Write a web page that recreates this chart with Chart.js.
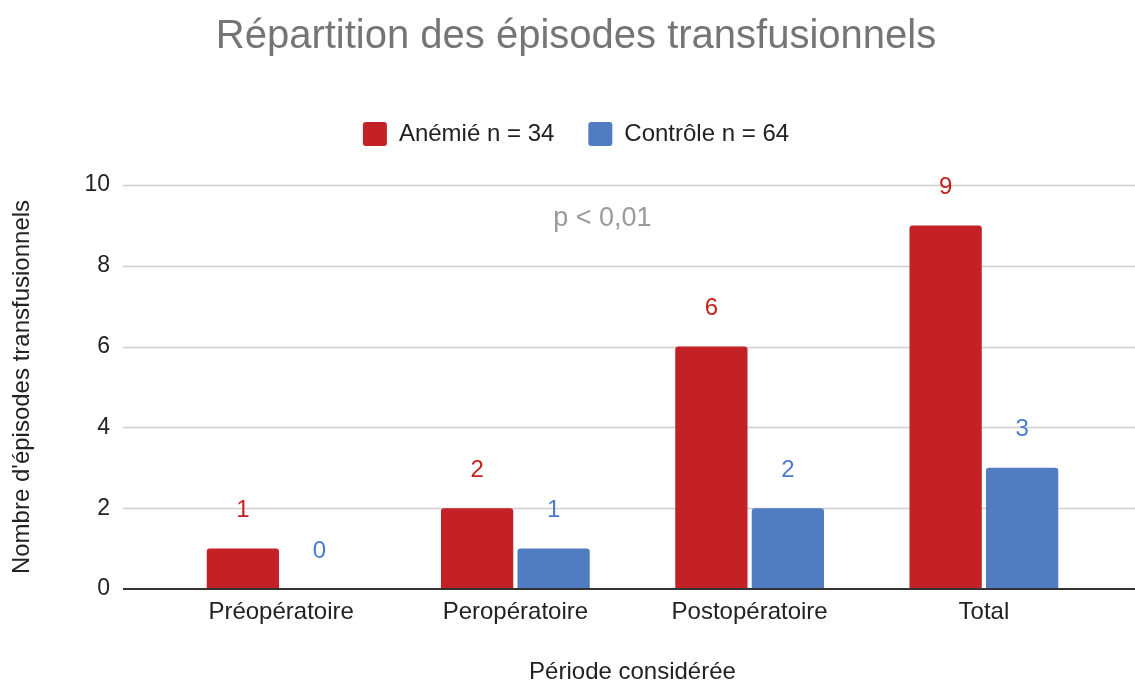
<!DOCTYPE html>
<html lang="fr">
<head>
<meta charset="utf-8">
<script src="https://cdn.jsdelivr.net/npm/chart.js@4"></script>
<style>
  html, body { margin: 0; padding: 0; background: #fff; }
  #wrap { width: 1135px; height: 684px; position: relative; }
</style>
</head>
<body>
<div id="wrap"><canvas id="js-chart-episodes"></canvas></div>
<script>
// Data
const periodes = ['Préopératoire', 'Peropératoire', 'Postopératoire', 'Total'];
const anemie = [1, 2, 6, 9];
const controle = [0, 1, 2, 3];
const yTicks = [0, 2, 4, 6, 8, 10];
const pValueText = 'p < 0,01';

const FONT = '"Liberation Sans", Arial, Helvetica, sans-serif';
const RED = '#c42126';
const BLUE = '#517cc2';

Chart.defaults.font.family = FONT;
Chart.defaults.color = '#222';

// Grid lines run wider than the bar area (Google Charts style)
const extendedGrid = {
  id: 'extendedGrid',
  beforeDatasetsDraw(chart) {
    const {ctx, scales: {y}} = chart;
    ctx.save();
    ctx.strokeStyle = '#cfcfcf';
    ctx.lineWidth = 1.5;
    yTicks.forEach(v => {
      if (v === 0) return;
      const py = Math.round(y.getPixelForValue(v)) + 0.5;
      ctx.beginPath();
      ctx.moveTo(123, py);
      ctx.lineTo(chart.width, py);
      ctx.stroke();
    });
    ctx.restore();
  },
  afterDatasetsDraw(chart) {
    const {ctx, scales: {y}} = chart;
    const py = y.getPixelForValue(0);
    ctx.save();
    ctx.strokeStyle = '#333';
    ctx.lineWidth = 2;
    ctx.beginPath();
    ctx.moveTo(123, py);
    ctx.lineTo(chart.width, py);
    ctx.stroke();
    ctx.restore();
  }
};

// Value labels above bars + p value note
const barLabels = {
  id: 'barLabels',
  afterDatasetsDraw(chart) {
    const {ctx, scales: {x, y}} = chart;
    ctx.save();
    ctx.font = '24px ' + FONT;
    ctx.textAlign = 'center';
    ctx.textBaseline = 'middle';
    chart.data.datasets.forEach((ds, i) => {
      chart.getDatasetMeta(i).data.forEach((bar, j) => {
        ctx.fillStyle = ds.labelColor;
        ctx.fillText(String(ds.data[j]), bar.x, bar.y - 38);
      });
    });
    ctx.font = '27px ' + FONT;
    ctx.fillStyle = '#9a9a9a';
    ctx.fillText(pValueText, x.getPixelForValue(1) + 87, y.getPixelForValue(9.16));
    ctx.restore();
  }
};

const chartData = {
  labels: periodes,
  datasets: [
    {
      label: 'Anémié n = 34',
      data: anemie,
      backgroundColor: RED,
      labelColor: '#c5221f',
      borderWidth: 0,
      borderRadius: {topLeft: 3, topRight: 3},
      borderSkipped: 'start'
    },
    {
      label: 'Contrôle n = 64',
      data: controle,
      backgroundColor: BLUE,
      labelColor: '#4a7bcf',
      borderWidth: 0,
      borderRadius: {topLeft: 3, topRight: 3},
      borderSkipped: 'start'
    }
  ]
};

const chartOptions = {
  responsive: true,
  maintainAspectRatio: false,
  animation: false,
  layout: { padding: { left: 17, right: 0, top: 0, bottom: 0 } },
  datasets: {
    bar: { categoryPercentage: 0.653, barPercentage: 0.945 }
  },
  scales: {
    x: {
      grid: { display: false, drawTicks: false },
      border: { display: false },
      ticks: { font: { size: 24 }, color: '#222', padding: 9 },
      title: {
        display: true,
        text: 'Période considérée',
        color: '#222',
        font: { size: 24, lineHeight: 1 },
        padding: { top: 0, bottom: 0 }
      },
      afterFit: s => { s.height = 95; }
    },
    y: {
      min: 0,
      max: 10,
      grid: { display: false, drawTicks: false },
      border: { display: false },
      ticks: { stepSize: 2, font: { size: 23 }, color: '#222', padding: 54 },
      title: {
        display: true,
        text: "Nombre d'épisodes transfusionnels",
        color: '#222',
        font: { size: 24, lineHeight: 1 },
        padding: { top: -7, bottom: 0 }
      },
      afterFit: s => { s.width = 147; }
    },
    // empty right-hand axis, only reserves the right margin
    yRight: {
      position: 'right',
      display: true,
      grid: { display: false, drawTicks: false },
      border: { display: false },
      ticks: { display: false },
      afterFit: s => { s.width = 34; }
    }
  },
  plugins: {
    title: {
      display: true,
      text: 'Répartition des épisodes transfusionnels',
      color: '#757575',
      font: { size: 40, weight: 'normal', lineHeight: 1.2 },
      padding: { top: 13, bottom: 27 }
    },
    legend: {
      display: true,
      position: 'top',
      labels: {
        boxWidth: 24,
        boxHeight: 24,
        useBorderRadius: true,
        borderRadius: 3,
        padding: 34,
        color: '#222',
        font: { size: 24 }
      }
    },
    // empty subtitle used as spacer between legend and plot
    subtitle: {
      display: true,
      text: '',
      weight: 500,
      font: { size: 29, lineHeight: 1 },
      padding: 0
    },
    tooltip: { enabled: false }
  }
};

new Chart(document.getElementById('js-chart-episodes'), {
  type: 'bar',
  data: chartData,
  options: chartOptions,
  plugins: [extendedGrid, barLabels]
});
</script>
</body>
</html>
